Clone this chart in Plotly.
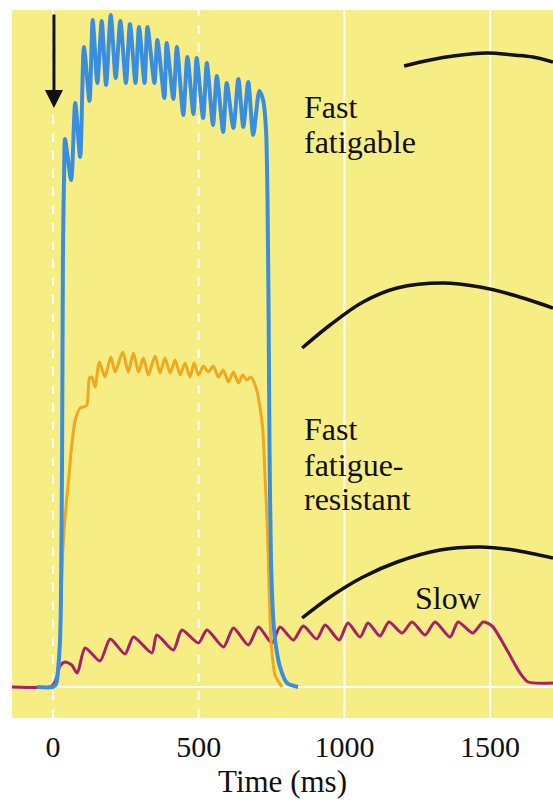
import plotly.graph_objects as go

# ---------------- data (time in ms, force in arbitrary units) ----------------
fast_fatigable_t = [-55, 0, 10, 17, 24, 27, 31, 34, 38, 41, 62, 76, 93, 106, 125, 136, 152, 167, 182, 198,
                    215, 231, 250, 264, 283, 295, 314, 324, 348, 358, 382, 390, 413, 425, 447, 461, 482,
                    493, 515, 528, 549, 562, 584, 596, 619, 636, 653, 670, 687, 708, 721, 731, 736, 740,
                    743, 748, 755, 762, 779, 803, 841]
fast_fatigable_f = [0, 0, 3, 17, 47, 87, 237, 437, 517, 548, 507, 584, 530, 640, 586, 667, 604, 666, 602, 672,
                    609, 666, 604, 663, 604, 660, 604, 660, 604, 647, 589, 644, 588, 640, 572, 630, 573,
                    629, 569, 624, 562, 611, 555, 604, 559, 608, 560, 605, 552, 596, 587, 557, 487, 367,
                    237, 127, 72, 47, 20, 4, 0]

fast_resistant_t = [-55, 0, 14, 24, 34, 45, 51, 65, 76, 93, 104, 116, 125, 133, 144, 159, 178, 198, 213, 239,
                    258, 276, 293, 310, 327, 350, 367, 384, 402, 419, 436, 453, 470, 484, 499, 516, 533,
                    550, 567, 584, 602, 619, 636, 651, 665, 679, 699, 710, 720, 728, 734, 738, 748, 762, 786]
fast_resistant_f = [0, 0, 5, 57, 140, 182, 200, 244, 267, 279, 280, 282, 309, 310, 300, 325, 310, 330, 315, 335,
                    315, 334, 315, 329, 312, 331, 314, 329, 314, 327, 312, 324, 310, 324, 312, 321, 315,
                    321, 310, 317, 305, 315, 304, 312, 307, 310, 297, 280, 257, 207, 170, 137, 47, 12, 0]

slow_t = [-141, -10, 0, 13, 24, 41, 64, 83, 110, 161, 196, 247, 276, 339, 356, 413, 442, 499, 528, 585,
          619, 670, 705, 751, 779, 825, 859, 905, 934, 982, 1012, 1054, 1081, 1122, 1153, 1198, 1232, 1277,
          1311, 1363, 1390, 1441, 1476, 1507, 1558, 1603, 1631, 1716]
slow_f = [0, 0, 2, 10, 21, 25, 22, 14, 39, 26, 48, 33, 50, 34, 52, 37, 57, 44, 57, 40,
          59, 42, 60, 44, 60, 47, 61, 48, 62, 47, 64, 50, 64, 51, 65, 54, 65, 52,
          65, 50, 65, 54, 65, 61, 37, 14, 5, 4]

# decorative arcs (outlines of the muscle drawings)
arc_top_t = [1205, 1294, 1373, 1489, 1579, 1647, 1716]
arc_top_f = [621, 627, 631, 634, 632, 630, 625]
arc_mid_t = [855, 951, 1064, 1181, 1338, 1465, 1579, 1716]
arc_mid_f = [339, 362, 385, 399, 404, 400, 392, 379]
arc_low_t = [855, 951, 1064, 1181, 1328, 1465, 1579, 1716]
arc_low_f = [69, 90, 110, 125, 137, 140, 137, 129]

tick_vals = [0, 500, 1000, 1500]
tick_text = ["0", "500", "1000", "1500"]
grid_dash = ["dash", "dash", "solid", "solid"]

# labels: (text, t, f)
labels = [("Fast", 855, 580), ("fatigable", 855, 545),
          ("Fast", 855, 258), ("fatigue-", 855, 222), ("resistant", 855, 188),
          ("Slow", 1236, 89)]

# ---------------- figure ----------------
FONT = "Liberation Serif, Times New Roman, serif"
YELLOW = "#F6EE84"
fig = go.Figure()

# vertical white grid lines and baseline
for v, d in zip(tick_vals, grid_dash):
    fig.add_shape(type="line", x0=v, x1=v, y0=0, y1=1, xref="x", yref="paper",
                  line=dict(color="white", width=2, dash=d), layer="below")
fig.add_shape(type="line", x0=0, x1=1, y0=0, y1=0, xref="paper", yref="y",
              line=dict(color="white", width=2), layer="below")

for t, f in [(arc_top_t, arc_top_f), (arc_mid_t, arc_mid_f), (arc_low_t, arc_low_f)]:
    fig.add_trace(go.Scatter(x=t, y=f, mode="lines", line=dict(color="#111111", width=3.5, shape="spline"),
                             hoverinfo="skip", showlegend=False))

fig.add_trace(go.Scatter(x=slow_t, y=slow_f, mode="lines", name="Slow",
                         line=dict(color="#A82068", width=3, shape="spline", smoothing=0.7)))
fig.add_trace(go.Scatter(x=fast_resistant_t, y=fast_resistant_f, mode="lines", name="Fast fatigue-resistant",
                         line=dict(color="#F0A820", width=3, shape="spline", smoothing=0.7)))
fig.add_trace(go.Scatter(x=fast_fatigable_t, y=fast_fatigable_f, mode="lines", name="Fast fatigable",
                         line=dict(color="#3A8EE0", width=4, shape="spline", smoothing=0.7)))

for text, t, f in labels:
    fig.add_annotation(x=t, y=f, xref="x", yref="y", text=text, showarrow=False,
                       xanchor="left", yanchor="middle", font=dict(family=FONT, size=32, color="#111111"))

# stimulus arrow
fig.add_annotation(x=3, y=579, ax=3, ay=674, xref="x", yref="y", axref="x", ayref="y",
                   text="", showarrow=True, arrowhead=2, arrowsize=1.2, arrowwidth=3, arrowcolor="#111111")

fig.update_layout(
    width=553, height=803,
    margin=dict(l=12, r=0, t=10, b=85),
    paper_bgcolor="white", plot_bgcolor=YELLOW,
    showlegend=False,
    font=dict(family=FONT, color="#111111"),
    xaxis=dict(range=[-141, 1716], tickvals=tick_vals, ticktext=tick_text,
               showgrid=False, zeroline=False, showline=False,
               ticks="", ticklabelstandoff=8, tickfont=dict(family=FONT, size=30, color="#111111"),
               title=dict(text="Time (ms)", font=dict(family=FONT, size=31, color="#111111"), standoff=8)),
    yaxis=dict(range=[-31, 677], showticklabels=False, showgrid=False,
               zeroline=False, showline=False, ticks=""),
)

fig.write_html("out.html")
